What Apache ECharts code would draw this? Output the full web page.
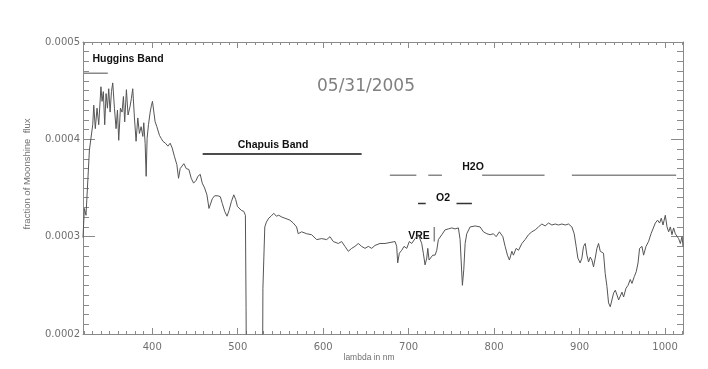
<!DOCTYPE html>
<html>
<head>
<meta charset="utf-8">
<script src="https://cdn.jsdelivr.net/npm/echarts@6/dist/echarts.min.js"></script>
<style>
    html, body { margin: 0; padding: 0; background: #fff; }
    #chart { width: 708px; height: 369px; }
</style>
</head>
<body>
<div id="chart"></div>
<script>
// 波长 (nm)
var wl = [319, 320.6, 322.5, 326.5, 330.4, 331.6, 333.4, 335.4, 337.4, 340, 341.3, 342.8, 344.4, 346, 347.6, 349.1,
    350.7, 352.3, 353.8, 355.8, 357.7, 359.3, 360.8, 362.8, 364.7, 366.3, 367.8, 369.8, 371.7, 374.1, 375.6, 377.2,
    379.2, 381.1, 383.1, 385, 387, 389, 390.1, 391.7, 392.9, 394, 395.6, 397.6, 399.1, 400.3, 401.9, 403.4, 405.4,
    408.5, 410.5, 412.4, 415.5, 418.3, 421, 423.4, 426.1, 428.8, 430.8, 432.7, 434.7, 437, 439.8, 442.9, 445.6,
    448.4, 451.5, 453.4, 456.2, 458.5, 461.3, 464, 466.4, 468.3, 470.3, 473, 476.9, 479.7, 482, 484.8, 487.5, 489.9,
    492.6, 495.4, 497.7, 499.7, 501.6, 504.3, 507.1, 509, 509.8, 510.5, 528.8, 529.5, 531.7, 533.6, 536.3, 539,
    542.2, 545.3, 548, 551.9, 555.2, 561.1, 565, 568.9, 570.8, 574.8, 580.7, 586.5, 592.4, 598.2, 604.1, 608,
    611.8, 617.7, 621.6, 625.5, 629.4, 633.4, 637.2, 641.1, 645, 648.9, 652.8, 656.8, 660.6, 666.5, 672.4, 678.2,
    684.1, 686, 687.2, 689.1, 691.9, 694.6, 697.8, 700.8, 703.6, 707.5, 711.4, 713.4, 715.3, 717.2, 719.2, 721.2,
    722.4, 723.9, 725.9, 728.2, 730.9, 732.9, 734.8, 738.8, 742.6, 746.5, 750.5, 754.3, 758.2, 760.2, 761.4, 762.9,
    764.5, 766.1, 768, 771.9, 777.8, 783.6, 787.5, 791.5, 795.3, 799.2, 802.4, 806.2, 810.2, 812.9, 815.6, 817.9,
    820.8, 822.6, 825.8, 828.5, 832.5, 836.3, 840.2, 844.2, 848.1, 851.9, 855.9, 859.7, 863.6, 867.6, 871.5, 875.3,
    879.3, 883.2, 887.1, 891, 893.7, 896, 898, 900.7, 902.7, 904.6, 906.6, 908.6, 910.5, 912.5, 914.4, 916.3,
    918.3, 920.3, 922.2, 924.2, 926.2, 928, 930, 932, 933.9, 935.9, 937.9, 939.8, 941.8, 943.8, 945.7, 947.6,
    949.6, 951.5, 954.3, 956.7, 959.3, 961.3, 964, 966.3, 968.4, 970.2, 973, 974.9, 977.7, 980.7, 983.6, 985.9,
    988.6, 991.3, 993.6, 995.6, 997.6, 1000.3, 1002.3, 1004.2, 1006.2, 1008.1, 1010, 1012, 1014, 1015.9, 1017.9,
    1019.9, 1021];

// 月光通量比例 (单位 1e-4)
var flux = [2.99, 3.29, 3.22, 3.89, 4.15, 4.35, 4.11, 4.32, 4.15, 4.54, 4.39, 4.49, 4.15, 4.47, 4.32, 4.52,
    4.28, 4.49, 4.58, 4.32, 4.11, 4.30, 3.99, 4.32, 4.28, 4.44, 4.18, 4.51, 4.25, 4.34, 4.42, 4.52,
    4.22, 3.98, 4.22, 4.06, 4.13, 4.03, 4.17, 3.96, 3.62, 4.01, 4.15, 4.28, 4.35, 4.39, 4.28, 4.18, 4.13,
    4.04, 4.01, 3.98, 3.96, 3.93, 3.96, 3.91, 3.82, 3.74, 3.60, 3.70, 3.72, 3.75, 3.70, 3.69, 3.60,
    3.55, 3.58, 3.62, 3.64, 3.55, 3.50, 3.43, 3.29, 3.27, 3.39, 3.42, 3.42, 3.41, 3.34, 3.26, 3.21, 3.27,
    3.36, 3.43, 3.38, 3.31, 3.29, 3.27, 3.26, 3.22, 2.27, 1.0, 1.0, 2.47, 3.10, 3.15, 3.19, 3.21,
    3.24, 3.21, 3.22, 3.20, 3.19, 3.17, 3.14, 3.10, 3.03, 3.05, 3.03, 3.02, 2.97, 2.98, 2.97, 3.00,
    2.95, 2.93, 2.95, 2.90, 2.85, 2.88, 2.90, 2.93, 2.90, 2.88, 2.90, 2.88, 2.91, 2.93, 2.93, 2.94,
    2.95, 2.90, 2.73, 2.83, 2.86, 2.90, 2.88, 2.95, 2.93, 2.98, 3.02, 3.03, 2.93, 2.83, 2.71, 2.78,
    2.88, 2.76, 2.74, 2.81, 2.81, 2.86, 2.97, 3.02, 3.07, 3.08, 3.09, 3.08, 3.09, 2.97, 2.76, 2.50,
    2.66, 2.93, 3.03, 3.10, 3.11, 3.10, 3.05, 3.03, 3.02, 3.03, 3.00, 3.05, 3.00, 2.90, 2.81, 2.76,
    2.85, 2.81, 2.88, 2.86, 2.93, 2.97, 3.02, 3.05, 3.07, 3.10, 3.13, 3.11, 3.14, 3.12, 3.13, 3.12,
    3.13, 3.12, 3.13, 3.10, 3.03, 2.90, 2.78, 2.73, 2.78, 2.90, 2.93, 2.81, 2.74, 2.79, 2.76, 2.69,
    2.78, 2.88, 2.93, 2.85, 2.83, 2.83, 2.62, 2.49, 2.32, 2.28, 2.30, 2.42, 2.45, 2.40, 2.35, 2.37,
    2.43, 2.38, 2.47, 2.50, 2.56, 2.52, 2.59, 2.64, 2.73, 2.88, 2.90, 2.81, 2.90, 2.95, 3.03, 3.03,
    3.14, 3.17, 3.14, 3.19, 3.12, 3.22, 3.10, 3.05, 3.10, 3.02, 3.09, 3.03, 3.05, 2.98, 2.93,
    3.00, 2.90];

// 吸收带标注 [起点nm, 终点nm, 高度]
var hugginsBand = [[319, 348, 4.68]];
var chapuisBand = [[459, 645, 3.85]];
var h2oBands = [[678, 709, 3.63], [723, 739, 3.63], [786, 859, 3.63], [891, 1013, 3.63]];
var o2Bands = [[711, 720, 3.34], [756, 774, 3.34]];
var vreMark = [[730, 3.10], [730, 2.95]];

// 刻度
var xMajor = [400, 500, 600, 700, 800, 900, 1000];
var yMajor = [0.0002, 0.0003, 0.0004, 0.0005];
var xMinor = [];
for (var i = 320; i <= 1020; i += 10) xMinor.push(i);
var yMinor = [];
for (var j = 20; j <= 50; j++) yMinor.push(j / 100000);

var axisGray = '#8a8a8a';
var textGray = '#707070';
var tickFont = 'DejaVu Sans';

function segSeries (segs, color) {
    return segs.map(function (s) {
        return {
            type: 'line',
            silent: true,
            symbol: 'none',
            lineStyle: { color: color, width: 1.5 },
            data: [[s[0], s[2] * 1e-4], [s[1], s[2] * 1e-4]]
        };
    });
}

function makeXAxis (pos, ticks, len, showLine, showLabel) {
    return {
        type: 'value', position: pos, min: 319, max: 1021,
        axisLine: { show: showLine, lineStyle: { color: axisGray, width: 1 } },
        axisTick: { show: true, inside: true, length: len, customValues: ticks, lineStyle: { color: axisGray } },
        axisLabel: showLabel ? {
            customValues: xMajor, color: textGray, fontSize: 10, margin: 8, fontFamily: tickFont,
            formatter: function (v) { return String(v); }
        } : { show: false },
        splitLine: { show: false }
    };
}

function makeYAxis (pos, ticks, len, showLine, showLabel) {
    return {
        type: 'value', position: pos, min: 0.0002, max: 0.0005,
        axisLine: { show: showLine, lineStyle: { color: axisGray, width: 1 } },
        axisTick: { show: true, inside: true, length: len, customValues: ticks, lineStyle: { color: axisGray } },
        axisLabel: showLabel ? {
            customValues: yMajor, color: textGray, fontSize: 10, margin: 3, fontFamily: tickFont,
            formatter: function (v) { return v.toFixed(4); }
        } : { show: false },
        splitLine: { show: false }
    };
}

var chart = echarts.init(document.getElementById('chart'));

var series = [{
    type: 'line',
    symbol: 'none',
    clip: true,
    lineStyle: { color: '#555', width: 1 },
    data: wl.map(function (w, k) { return [w, flux[k] * 1e-4]; })
}];
series = series.concat(segSeries(hugginsBand, '#888'));
series = series.concat(segSeries(chapuisBand, '#111'));
series = series.concat(segSeries(h2oBands, '#888'));
series = series.concat(segSeries(o2Bands, '#333'));
series.push({
    type: 'line', silent: true, symbol: 'none',
    lineStyle: { color: '#888', width: 1.5 },
    data: vreMark.map(function (p) { return [p[0], p[1] * 1e-4]; })
});

var bold = { fontFamily: 'Liberation Sans', fontWeight: 'bold', fontSize: 10.5, fill: '#111', align: 'center', verticalAlign: 'middle' };
function label (text, x, y) {
    return { type: 'text', x: x, y: y, style: Object.assign({ text: text }, bold) };
}

var option = {
    animation: false,
    grid: { left: 83, right: 25, top: 42, bottom: 35 },
    xAxis: [
        makeXAxis('bottom', xMajor, 6, true, true),
        makeXAxis('bottom', xMinor, 3, false, false),
        makeXAxis('top', xMajor, 6, true, false),
        makeXAxis('top', xMinor, 3, false, false)
    ],
    yAxis: [
        makeYAxis('left', yMajor, 12, true, true),
        makeYAxis('left', yMinor, 6, false, false),
        makeYAxis('right', yMajor, 12, true, false),
        makeYAxis('right', yMinor, 6, false, false)
    ],
    series: series,
    graphic: [
        { type: 'text', x: 366, y: 87, style: { text: '05/31/2005', fontFamily: 'DejaVu Sans', fontSize: 17, fill: '#808080', align: 'center', verticalAlign: 'middle' } },
        { type: 'text', x: 369, y: 358, style: { text: 'lambda in nm', fontFamily: 'Liberation Sans', fontSize: 8.5, fill: textGray, align: 'center', verticalAlign: 'middle' } },
        { type: 'text', x: 27, y: 174, rotation: Math.PI / 2, style: { text: 'fraction of Moonshine  flux', fontFamily: 'Liberation Sans', fontSize: 9.5, fill: textGray, align: 'center', verticalAlign: 'middle' } },
        label('Huggins Band', 128, 59),
        label('Chapuis Band', 273, 145),
        label('H2O', 473, 167),
        label('O2', 443, 198),
        label('VRE', 419, 236)
    ]
};
chart.setOption(option);
</script>
</body>
</html>
